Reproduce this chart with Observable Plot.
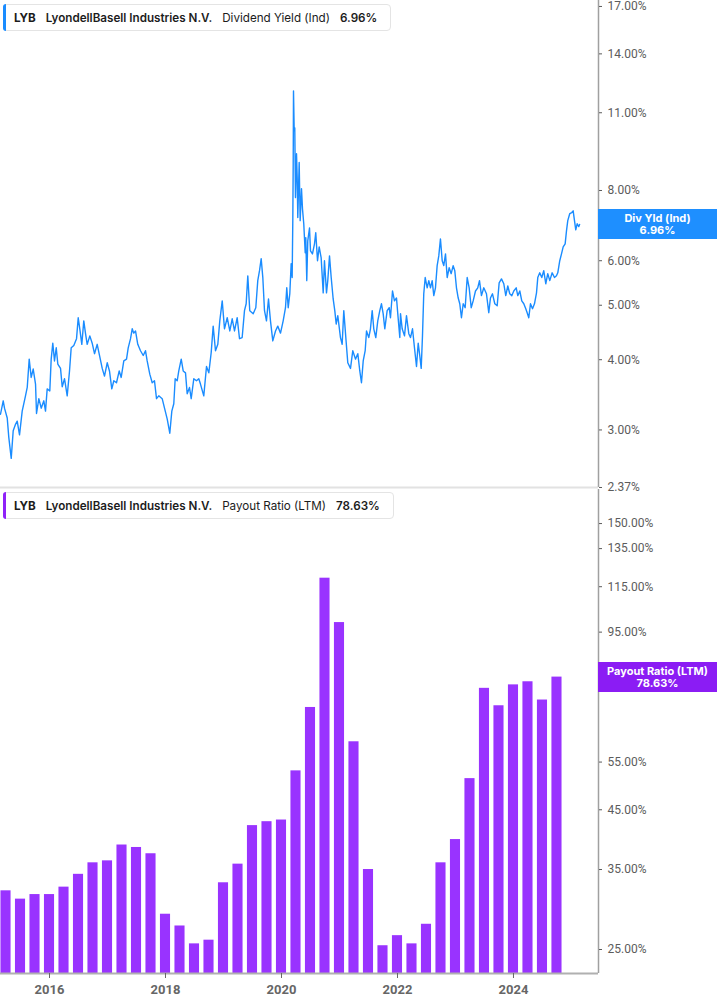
<!DOCTYPE html>
<html><head><meta charset="utf-8">
<script src="https://cdn.jsdelivr.net/npm/d3@7"></script>
<script src="https://cdn.jsdelivr.net/npm/@observablehq/plot@0.6"></script>
<style>
body{margin:0;background:#fff;font-family:Inter,"Noto Sans",sans-serif;}
#wrap{position:relative;width:717px;height:1005px;overflow:hidden;background:#fff;}
.panel{position:absolute;left:0;overflow:visible;}
.legend{position:absolute;left:3px;height:27px;box-sizing:border-box;border:1px solid #e4e4e4;border-radius:4px;background:#fff;display:flex;align-items:center;font-size:11.65px;color:#1c1c1c;padding-left:10px;padding-right:13px;white-space:nowrap;}
.legend .acc{position:absolute;left:-1px;top:-1px;bottom:-1px;width:3px;border-radius:3px 0 0 3px;}
.legend span{margin-right:10px;}
.legend span:last-child{margin-right:0;}
.vbox{position:absolute;left:598px;width:119px;height:30px;color:#fff;font-weight:700;font-size:11px;line-height:12px;text-align:center;display:flex;flex-direction:column;justify-content:center;}
</style></head>
<body><div id="wrap"></div>
<script>
// ---- Dividend yield (Ind), % ----
const yieldYears = [
2015.155,2015.202,2015.224,2015.271,2015.298,2015.340,2015.374,2015.414,2015.443,2015.483,
2015.529,2015.586,2015.616,2015.650,2015.684,2015.719,2015.759,2015.776,2015.816,2015.857,
2015.902,2015.931,2015.960,2016.005,2016.029,2016.057,2016.086,2016.116,2016.143,2016.190,
2016.219,2016.259,2016.305,2016.345,2016.374,2016.419,2016.466,2016.495,2016.522,2016.557,
2016.591,2016.621,2016.650,2016.695,2016.736,2016.776,2016.822,2016.862,2016.909,2016.948,
2016.995,2017.034,2017.074,2017.109,2017.155,2017.202,2017.236,2017.281,2017.328,2017.357,
2017.397,2017.426,2017.453,2017.483,2017.522,2017.569,2017.616,2017.655,2017.684,2017.729,
2017.771,2017.810,2017.845,2017.884,2017.943,2017.983,2018.029,2018.074,2018.109,2018.143,
2018.167,2018.202,2018.229,2018.271,2018.305,2018.345,2018.374,2018.414,2018.443,2018.488,
2018.534,2018.574,2018.603,2018.660,2018.707,2018.747,2018.788,2018.822,2018.862,2018.902,
2018.936,2018.978,2019.017,2019.064,2019.109,2019.150,2019.190,2019.236,2019.276,2019.322,
2019.362,2019.391,2019.419,2019.453,2019.512,2019.557,2019.591,2019.621,2019.650,2019.678,
2019.707,2019.741,2019.776,2019.810,2019.850,2019.897,2019.936,2019.983,2020.029,2020.069,
2020.091,2020.116,2020.143,2020.167,2020.184,2020.195,2020.202,2020.207,2020.219,2020.229,
2020.241,2020.259,2020.271,2020.281,2020.305,2020.322,2020.345,2020.362,2020.384,2020.409,
2020.419,2020.436,2020.453,2020.483,2020.500,2020.534,2020.569,2020.591,2020.621,2020.650,
2020.684,2020.719,2020.741,2020.776,2020.798,2020.828,2020.857,2020.891,2020.919,2020.943,
2020.971,2021.017,2021.046,2021.074,2021.109,2021.143,2021.190,2021.229,2021.276,2021.316,
2021.350,2021.379,2021.409,2021.443,2021.466,2021.505,2021.534,2021.564,2021.591,2021.626,
2021.660,2021.695,2021.724,2021.753,2021.781,2021.822,2021.857,2021.879,2021.914,2021.948,
2021.983,2022.005,2022.040,2022.052,2022.081,2022.121,2022.155,2022.195,2022.224,2022.259,
2022.293,2022.328,2022.357,2022.384,2022.409,2022.431,2022.453,2022.478,2022.512,2022.540,
2022.569,2022.598,2022.626,2022.655,2022.684,2022.712,2022.741,2022.771,2022.798,2022.828,
2022.857,2022.891,2022.926,2022.960,2022.988,2023.017,2023.047,2023.074,2023.103,2023.133,
2023.167,2023.202,2023.236,2023.271,2023.305,2023.345,2023.384,2023.414,2023.448,2023.488,
2023.534,2023.574,2023.603,2023.638,2023.678,2023.719,2023.753,2023.793,2023.833,2023.867,
2023.902,2023.936,2023.971,2024.005,2024.047,2024.074,2024.109,2024.143,2024.178,2024.212,
2024.236,2024.264,2024.293,2024.328,2024.362,2024.397,2024.419,2024.453,2024.488,2024.522,
2024.557,2024.591,2024.626,2024.667,2024.707,2024.741,2024.764,2024.798,2024.828,2024.857,
2024.891,2024.914,2024.936,2024.971,2025.005,2025.029,2025.052,2025.074,2025.098,2025.126,2025.140];
const yieldValues = [
3.20,3.38,3.28,3.15,2.91,2.67,2.99,3.07,3.11,2.94,
3.24,3.45,3.57,4.01,3.72,3.85,3.62,3.21,3.41,3.28,
3.38,3.24,3.55,3.52,4.01,4.28,3.98,4.20,3.93,3.86,
3.58,3.70,3.45,3.82,4.20,4.24,4.36,4.75,4.54,4.26,
4.69,4.45,4.26,4.41,4.28,4.10,4.26,4.07,3.86,3.74,
3.95,3.82,3.55,3.67,3.64,3.82,3.72,3.98,4.01,4.20,
4.36,4.54,4.46,4.50,4.26,4.15,4.07,4.15,3.98,3.77,
3.64,3.67,3.41,3.45,3.41,3.28,3.14,2.96,3.24,3.34,
3.70,3.67,3.82,4.01,3.82,3.79,3.48,3.57,3.41,3.70,
3.67,3.70,3.62,3.45,3.89,3.79,4.12,4.59,4.15,4.26,
4.69,5.09,4.54,4.75,4.50,4.73,4.50,4.75,4.36,4.38,
4.89,5.03,5.64,4.89,4.83,4.95,5.53,5.76,6.05,5.60,
4.89,4.69,5.13,4.69,4.32,4.50,4.59,4.46,4.69,4.95,
5.37,4.95,5.24,5.93,5.60,7.07,8.93,12.03,10.22,10.34,
7.77,9.30,8.42,7.16,8.97,7.07,8.06,7.42,6.98,6.20,
6.59,5.53,6.51,6.86,6.25,6.17,6.43,6.73,6.00,6.35,
6.07,5.26,6.00,5.26,5.53,6.12,5.60,5.13,4.89,4.63,
4.79,4.38,4.26,4.89,4.38,3.95,3.86,4.15,4.01,4.10,
3.82,3.64,3.98,4.15,4.50,4.38,4.54,4.89,4.54,4.38,
4.69,4.89,5.03,4.83,4.54,4.89,4.95,4.75,5.30,5.09,
5.15,4.83,4.38,4.83,4.54,4.41,4.79,4.45,4.38,4.54,
4.20,3.89,4.28,4.07,3.86,4.41,5.24,5.60,5.37,5.53,
5.37,5.53,5.20,5.37,5.88,6.12,6.56,6.00,5.88,6.17,
5.60,5.83,5.69,5.88,5.76,5.37,5.15,5.03,4.75,5.03,
4.95,5.60,5.37,4.95,5.09,5.30,5.37,5.53,5.20,5.37,
5.24,4.85,5.15,5.24,5.03,4.99,5.48,5.57,5.46,5.20,
5.41,5.24,5.20,5.30,5.37,5.20,5.30,5.09,5.03,4.93,
4.85,4.75,5.03,4.93,5.03,5.26,5.60,5.71,5.60,5.76,
5.46,5.69,5.53,5.71,5.60,5.64,5.71,6.00,6.17,6.35,
6.43,6.78,7.07,7.28,7.31,7.36,7.07,6.81,6.98,6.90,6.96];

// ---- Payout ratio (LTM), % — quarterly ----
const payoutQuarters = [
"2015 Q1","2015 Q2","2015 Q3","2015 Q4","2016 Q1","2016 Q2","2016 Q3","2016 Q4",
"2017 Q1","2017 Q2","2017 Q3","2017 Q4","2018 Q1","2018 Q2","2018 Q3","2018 Q4",
"2019 Q1","2019 Q2","2019 Q3","2019 Q4","2020 Q1","2020 Q2","2020 Q3","2020 Q4",
"2021 Q1","2021 Q2","2021 Q3","2021 Q4","2022 Q1","2022 Q2","2022 Q3","2022 Q4",
"2023 Q1","2023 Q2","2023 Q3","2023 Q4","2024 Q1","2024 Q2","2024 Q3"];
const payoutValues = [
32.0,30.9,31.5,31.5,32.5,34.3,36.0,36.3,
38.8,38.4,37.4,29.0,27.6,25.6,26.0,33.1,
35.8,42.1,42.8,43.1,53.0,69.2,119.2,98.9,
59.9,35.0,25.4,26.5,25.6,27.8,36.0,39.7,
51.3,75.0,69.7,76.1,77.1,71.4,78.63];

// ---- axes ----
const yearTicks = [2016, 2018, 2020, 2022, 2024];
const yieldTicks = [2.37, 3, 4, 5, 6, 7, 8, 11, 14, 17];
const payoutTicks = [25, 35, 45, 55, 75, 95, 115, 135, 150];
const ticker = "LYB";
const company = "LyondellBasell Industries N.V.";
const yieldName = "Dividend Yield (Ind)", yieldShort = "Div Yld (Ind)";
const payoutName = "Payout Ratio (LTM)";
const lastYield = 6.96, lastPayout = 78.63;

const blue = "#1a8cff", purple = "#9933ff", purpleBox = "#8b1cf4";
const xDomain = [2015.155, 2025.466];
const yieldDomain = [2.37, 17.42];
const payoutDomain = [22.6, 173.1];
const pct = d => d.toFixed(2) + "%";

const n = Math.min(yieldYears.length, yieldValues.length);
const yieldData = d3.range(n).map(i => ({t: yieldYears[i], v: yieldValues[i]}));
const payoutData = payoutQuarters.map((q, i) => {
  const [y, qq] = q.split(" Q");
  return {t: +y + (+qq) * 0.25, v: payoutValues[i]};
});

const wrap = document.getElementById("wrap");
const axisStyle = {fontFamily: "Roboto, 'Liberation Sans', sans-serif", fontSize: "12px", background: "transparent", overflow: "visible"};

const botChart = Plot.plot({
  width: 717, height: 517, marginLeft: 0, marginRight: 119, marginTop: 1, marginBottom: 32,
  style: axisStyle,
  x: {domain: xDomain, axis: null},
  y: {type: "log", domain: payoutDomain, axis: null},
  marks: [
    Plot.rect(payoutData, {x1: d => d.t - 0.125, x2: d => d.t + 0.125, y1: payoutDomain[0], y2: "v",
      fill: purple, insetLeft: 2.2, insetRight: 2.2}),
    Plot.ruleY([payoutDomain[0]], {stroke: "#b0b0b0", strokeWidth: 2}),
    Plot.ruleX([xDomain[1]], {stroke: "#a0a0a0", strokeWidth: 1.5}),
    Plot.axisY({anchor: "right", ticks: payoutTicks, tickFormat: pct, tickSize: 3, tickPadding: 6, color: "#5c5c5c", label: null}),
    Plot.axisX({ticks: yearTicks, tickFormat: "d", tickSize: 5, tickPadding: 6, color: "#666", fontWeight: "bold", fontSize: 13, label: null})
  ]
});
botChart.classList.add("panel");
botChart.style.top = "488px";
wrap.appendChild(botChart);

const topChart = Plot.plot({
  width: 717, height: 488, marginLeft: 0, marginRight: 119, marginTop: 0, marginBottom: 1,
  style: axisStyle,
  x: {domain: xDomain, axis: null},
  y: {type: "log", domain: yieldDomain, axis: null},
  marks: [
    Plot.ruleY([yieldDomain[0]], {stroke: "#e2e2e2", strokeWidth: 2}),
    Plot.line(yieldData, {x: "t", y: "v", stroke: blue, strokeWidth: 1.4}),
    Plot.ruleX([xDomain[1]], {stroke: "#a0a0a0", strokeWidth: 1.5}),
    Plot.axisY({anchor: "right", ticks: yieldTicks, tickFormat: pct, tickSize: 3, tickPadding: 6, color: "#5c5c5c", label: null})
  ]
});
topChart.classList.add("panel");
topChart.style.top = "0px";
wrap.appendChild(topChart);

function legend(top, color, metric, value) {
  const el = document.createElement("div");
  el.className = "legend";
  el.style.top = top + "px";
  el.innerHTML = `<div class="acc" style="background:${color}"></div>
    <span style="font-weight:700">${ticker}</span>
    <span style="font-weight:600">${company}</span>
    <span style="font-weight:400">${metric}</span>
    <span style="font-weight:600">${value}</span>`;
  wrap.appendChild(el);
}
legend(4, blue, yieldName, pct(lastYield));
legend(492, "#8f22f8", payoutName, pct(lastPayout));

function vbox(offset, yPix, color, name, value) {
  const el = document.createElement("div");
  el.className = "vbox";
  el.style.background = color;
  el.style.top = (offset + yPix - 15) + "px";
  el.innerHTML = `<div>${name}</div><div>${value}</div>`;
  wrap.appendChild(el);
}
vbox(0, topChart.scale("y").apply(lastYield), "#1e8fff", yieldShort, pct(lastYield));
vbox(488, botChart.scale("y").apply(lastPayout), purpleBox, payoutName, pct(lastPayout));
</script>
</body></html>
